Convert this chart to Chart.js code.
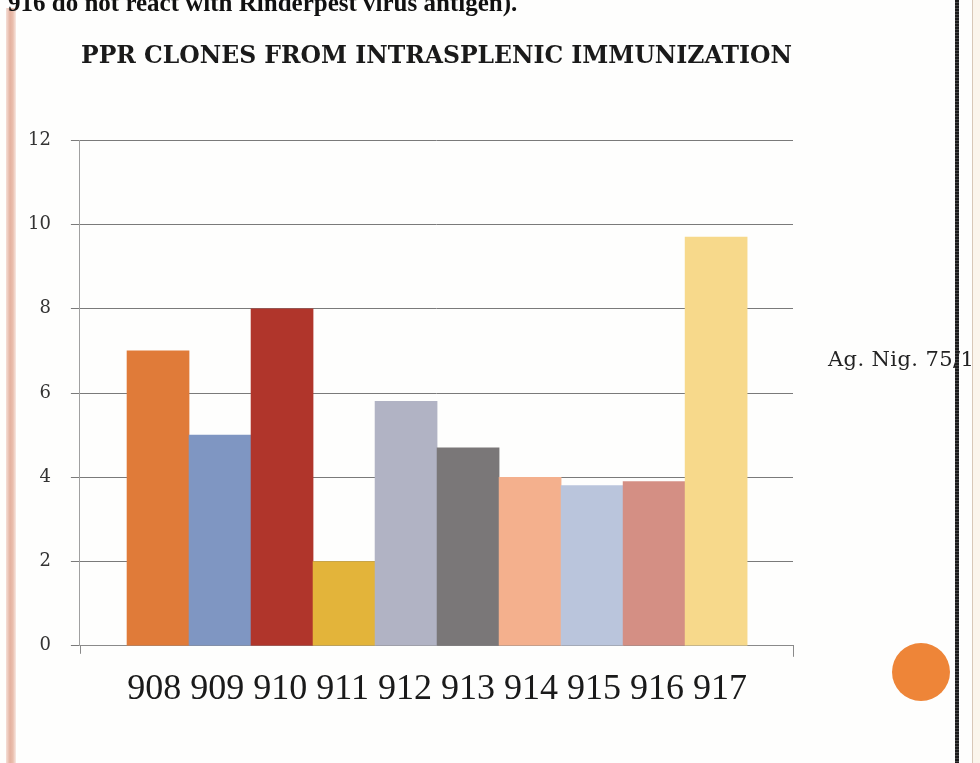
<!DOCTYPE html>
<html>
<head>
<meta charset="utf-8">
<script src="https://cdn.jsdelivr.net/npm/chart.js@4/dist/chart.umd.min.js"></script>
<style>
    html, body { margin: 0; padding: 0; }
    body { width: 980px; height: 763px; background: #fefefd; position: relative; overflow: hidden; }
    #chartBox { position: absolute; left: 0; top: 0; width: 856px; height: 763px; }
    .topText { position: absolute; left: 8px; top: -10px; z-index: 3; font: bold 25px/25px "Liberation Serif", serif; color: #111; white-space: nowrap; }
    #legendText { position: absolute; left: 828px; top: 349px; font: 21px/21px "DejaVu Serif", serif; letter-spacing: 0.4px; color: #222; white-space: nowrap; }
    .leftBand { position: absolute; left: 6px; top: 8px; width: 10px; height: 755px;
        background: linear-gradient(to right, #f5dfd7, #e4b19f 40%, #eabfae 70%, #f8e9e3); }
    .rightLine { position: absolute; left: 955px; top: 0; width: 4px; height: 763px; z-index: 5;
        background: repeating-linear-gradient(to bottom, #1c1c1c 0 2px, #4a4a4a 2px 3px); }
    .rightThin { position: absolute; left: 972px; top: 0; width: 1px; height: 763px; background: #d8c8b8; }
    .rightPad { position: absolute; left: 973px; top: 0; width: 7px; height: 763px; background: #fbf5ec; }
    .dot { position: absolute; left: 892px; top: 643px; width: 58px; height: 58px; border-radius: 50%; background: #ee8538; }
</style>
</head>
<body>
<div class="topText">916 do not react with Rinderpest virus antigen).</div>
<div class="leftBand"></div>
<div id="chartBox"><canvas id="myChart"></canvas></div>
<div id="legendText"></div>
<div class="rightLine"></div>
<div class="rightThin"></div>
<div class="rightPad"></div>
<div class="dot"></div>
<script>
const chartTitle = 'PPR CLONES FROM INTRASPLENIC IMMUNIZATION';
const seriesName = 'Ag. Nig. 75/1';
const clones = ['908', '909', '910', '911', '912', '913', '914', '915', '916', '917'];
const values = [7, 5, 8, 2, 5.8, 4.7, 4, 3.8, 3.9, 9.7];
const barColors = ['#e07b39', '#7f96c2', '#b0352b', '#e3b43a', '#b1b3c4', '#7a7778', '#f4b08d', '#bac5dc', '#d48f84', '#f7d98b'];
const yTicks = [0, 2, 4, 6, 8, 10, 12];

// the bars sit as one touching block in the middle of the plot,
// so the x axis is a linear index axis with empty room at both ends.
// the clone names are one line of text centred under the block
const points = clones.map((c, i) => ({ x: i, y: values[i] }));
const blockCenter = (clones.length - 1) / 2;

// small tick marks at both ends of the x axis
const edgeTicks = {
    id: 'edgeTicks',
    afterDraw(chart) {
        const { ctx, chartArea } = chart;
        ctx.save();
        ctx.strokeStyle = '#8a8a8a';
        ctx.lineWidth = 1;
        ctx.beginPath();
        ctx.moveTo(Math.round(chartArea.right) + 0.5, chartArea.bottom);
        ctx.lineTo(Math.round(chartArea.right) + 0.5, chartArea.bottom + 11);
        ctx.moveTo(Math.round(chartArea.left) + 0.5, chartArea.bottom);
        ctx.lineTo(Math.round(chartArea.left) + 0.5, chartArea.bottom + 8);
        ctx.stroke();
        ctx.restore();
    }
};

const ctx = document.getElementById('myChart').getContext('2d');
const chart = new Chart(ctx, {
    type: 'bar',
    data: {
        datasets: [{
            label: seriesName,
            data: points,
            backgroundColor: barColors,
            borderWidth: 0,
            barPercentage: 1,
            categoryPercentage: 1
        }]
    },
    options: {
        responsive: true,
        maintainAspectRatio: false,
        animation: false,
        layout: { padding: { left: 8, right: 63, top: 0, bottom: 38 } },
        plugins: {
            legend: { display: false },
            tooltip: { enabled: false },
            title: {
                display: true,
                fullSize: false,
                text: chartTitle,
                color: '#1a1a1a',
                font: { family: 'DejaVu Serif', size: 23.5, weight: 'bold' },
                padding: { top: 43, bottom: 69 }
            }
        },
        scales: {
            x: {
                type: 'linear',
                min: -1.26,
                max: 10.24,
                offset: false,
                afterBuildTicks: (axis) => { axis.ticks = [{ value: blockCenter }]; },
                grid: { display: false },
                border: { display: true, color: '#8a8a8a', width: 1 },
                ticks: {
                    color: '#1a1a1a',
                    padding: 14,
                    maxRotation: 0,
                    autoSkip: false,
                    font: { family: 'Liberation Serif', size: 36 },
                    callback: () => clones.join(' ')
                }
            },
            y: {
                min: 0,
                max: 12,
                afterBuildTicks: (axis) => { axis.ticks = yTicks.map(v => ({ value: v })); },
                grid: { color: '#7a7a7a', lineWidth: 1, tickLength: 9 },
                border: { display: true, color: '#a0a0a0', width: 1 },
                ticks: {
                    color: '#333',
                    padding: 20,
                    font: { family: 'DejaVu Serif', size: 18 }
                }
            }
        }
    },
    plugins: [edgeTicks]
});

document.getElementById('legendText').textContent = chart.data.datasets[0].label;
</script>
</body>
</html>
